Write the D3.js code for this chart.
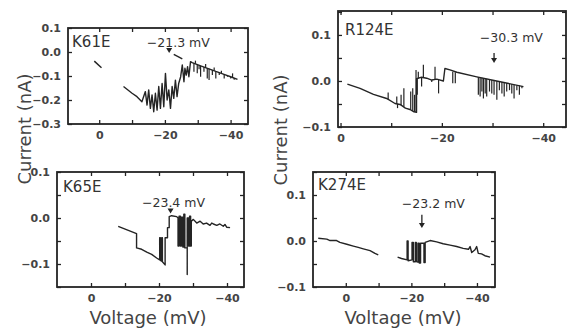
<!DOCTYPE html>
<html>
<head>
<meta charset="utf-8">
<script src="https://cdn.jsdelivr.net/npm/d3@7"></script>
<style>
  body { margin: 0; background: #fff; }
  svg { display: block; }
</style>
</head>
<body>
<div id="chart"></div>
<script>
// Current traces, [voltage (mV), current (nA)].
// Each inner array is one unbroken piece of a trace.
// Spikes are brief channel events: [voltage, current before, current at tip].
const mutants = ['K61E', 'R124E', 'K65E', 'K274E'];
const thresholds = [-21.3, -30.3, -23.4, -23.2];
const thresholdLabels = ['\u221221.3 mV', '\u221230.3 mV', '\u221223.4 mV', '\u221223.2 mV'];

const k61eTrace = [
  [[1.5, -0.038], [-0.7, -0.066]],
  [[-22.7, -0.010], [-25.3, -0.029]],
  [[-7.4, -0.144], [-10.0, -0.172], [-11.5, -0.186], [-13.0, -0.207], [-14.05, -0.165], [-14.56, -0.221],
   [-15.07, -0.158], [-15.58, -0.235], [-16.09, -0.179], [-16.6, -0.249], [-17.11, -0.172], [-17.62, -0.242],
   [-18.13, -0.144], [-18.64, -0.235], [-19.15, -0.131], [-19.66, -0.228], [-20.17, -0.089], [-20.68, -0.2],
   [-21.19, -0.158], [-21.7, -0.235], [-22.2, -0.144], [-22.7, -0.193], [-23.2, -0.117], [-23.7, -0.186],
   [-24.2, -0.131], [-24.8, -0.103], [-25.3, -0.054], [-25.8, -0.124], [-26.1, -0.068], [-26.5, -0.096],
   [-26.9, -0.061], [-27.3, -0.103], [-27.8, -0.040], [-28.3, -0.044], [-30.9, -0.058], [-33.4, -0.070],
   [-35.5, -0.081], [-38.0, -0.093], [-40.0, -0.103], [-42.1, -0.114]]
];
const k61eSpikes = [
  [-28.84, -0.047, -0.082], [-29.3, -0.049, -0.036], [-29.85, -0.052, -0.089], [-30.4, -0.055, -0.072],
  [-30.87, -0.057, -0.103], [-31.89, -0.062, -0.082], [-32.4, -0.065, -0.050], [-32.9, -0.068, -0.110],
  [-33.45, -0.070, -0.117], [-34.45, -0.075, -0.096], [-35.0, -0.078, -0.065], [-35.5, -0.081, -0.110],
  [-36.55, -0.086, -0.096], [-37.2, -0.089, -0.078], [-38.05, -0.093, -0.110], [-39.05, -0.099, -0.103],
  [-40.05, -0.103, -0.110], [-40.6, -0.106, -0.089], [-41.1, -0.108, -0.116]
];

const r124eTrace = [
  [[-1.35, -0.007], [-3.85, -0.016], [-6.5, -0.029], [-9.1, -0.038], [-10.75, -0.049], [-11.75, -0.051],
   [-12.8, -0.059], [-13.7, -0.062], [-14.5, -0.067], [-15.0, -0.068], [-15.0, 0.005], [-16.0, 0.008],
   [-17.0, 0.006], [-18.0, 0.002], [-19.0, 0.004], [-20.3, 0.0], [-20.6, 0.027], [-21.6, 0.024],
   [-22.95, 0.019], [-26.9, 0.009], [-30.8, 0.0], [-36.1, -0.0123]]
];
const r124eSpikes = [
  [-9.4, -0.040, -0.025], [-11.1, -0.050, -0.034], [-11.25, -0.050, -0.059], [-11.95, -0.053, -0.030],
  [-12.5, -0.056, -0.016], [-13.85, -0.063, -0.023], [-14.25, -0.065, -0.016], [-14.6, -0.067, -0.030],
  [-14.9, -0.067, 0.024], [-15.15, 0.005, -0.030], [-15.35, 0.005, 0.020], [-16.0, 0.008, -0.012],
  [-16.35, 0.008, 0.035], [-18.0, 0.002, -0.002], [-18.65, 0.003, 0.031], [-19.35, 0.003, -0.027],
  [-22.15, 0.020, -0.005], [-22.65, 0.019, -0.005],
  [-27.2, 0.0087, -0.030], [-27.55, 0.008, -0.034], [-27.9, 0.007, -0.023], [-28.2, 0.0065, -0.038],
  [-28.55, 0.006, -0.027], [-28.85, 0.005, -0.034], [-29.4, 0.0036, -0.023], [-29.85, 0.0022, -0.027],
  [-30.3, 0.0014, -0.030], [-30.85, 0.0, -0.041], [-31.35, -0.0015, -0.020], [-31.85, -0.0022, -0.027],
  [-32.3, -0.0036, -0.034], [-32.8, -0.0044, -0.023], [-33.35, -0.0058, -0.020], [-33.8, -0.0065, -0.027],
  [-34.25, -0.008, -0.038], [-34.8, -0.0094, -0.020], [-35.3, -0.010, -0.030], [-35.8, -0.0116, -0.016]
];

const k65eTrace = [
  [[-8.0, -0.018], [-13.4, -0.034], [-13.4, -0.065], [-14.9, -0.068], [-16.4, -0.074], [-17.85, -0.079],
   [-19.3, -0.087], [-20.2, -0.091], [-20.2, -0.043], [-20.4, -0.043], [-20.4, -0.092], [-20.8, -0.094],
   [-20.8, -0.043], [-21.0, -0.043], [-21.0, -0.095], [-21.8, -0.102], [-21.8, -0.043], [-22.5, -0.043],
   [-22.5, -0.021], [-23.0, -0.021], [-23.0, 0.003], [-23.7, 0.005], [-25.2, 0.003], [-25.6, 0.0],
   [-25.6, -0.061], [-25.9, -0.061], [-25.9, 0.004], [-26.3, 0.004], [-26.3, -0.061], [-26.6, -0.061],
   [-26.6, 0.002], [-27.0, 0.002], [-27.0, -0.063], [-27.3, -0.063], [-27.3, 0.008], [-27.6, 0.008],
   [-27.6, -0.065], [-28.3, -0.065], [-28.3, -0.123], [-28.3, 0.0], [-28.7, 0.0], [-28.7, -0.061],
   [-29.0, -0.061], [-29.0, 0.004], [-29.3, 0.004], [-29.3, -0.061], [-29.5, -0.061], [-29.5, -0.007],
   [-30.1, -0.003], [-31.1, -0.011], [-32.1, -0.007], [-33.0, -0.013], [-34.0, -0.011], [-35.0, -0.016],
   [-35.5, -0.011], [-36.0, -0.013], [-37.0, -0.016], [-37.9, -0.013], [-38.9, -0.018], [-39.4, -0.014],
   [-39.9, -0.020], [-40.9, -0.021]]
];
const k65eSpikes = [];

const k274eTrace = [
  [[8.4, 0.006], [5.8, 0.004], [4.8, 0.001], [2.8, 0.001], [1.8, -0.003], [-0.3, -0.007], [-2.3, -0.011],
   [-3.8, -0.014], [-5.35, -0.017], [-7.4, -0.021], [-8.9, -0.027], [-9.9, -0.030]],
  [[-15.8, -0.035], [-17.0, -0.038], [-18.7, -0.041], [-18.7, 0.0], [-19.0, 0.0], [-19.0, -0.043],
   [-20.2, -0.041], [-20.2, -0.003], [-20.6, -0.003], [-20.6, -0.045], [-21.2, -0.045], [-21.2, -0.003],
   [-21.5, -0.003], [-21.5, -0.045], [-22.0, -0.046], [-22.0, -0.005], [-22.4, -0.005], [-22.4, -0.048],
   [-22.8, -0.048], [-22.8, -0.005], [-23.84, -0.005], [-23.84, -0.047], [-24.2, -0.047], [-24.2, -0.003],
   [-25.7, 0.001], [-27.7, -0.002], [-29.7, -0.006], [-31.8, -0.009], [-33.8, -0.012], [-35.8, -0.016],
   [-37.4, -0.018], [-37.9, -0.012], [-38.4, -0.025], [-39.4, -0.019], [-39.9, -0.012], [-40.4, -0.027],
   [-41.4, -0.028], [-42.4, -0.032], [-44.0, -0.035]]
];
const k274eSpikes = [];

const xTicks = [0, -10, -20, -30, -40];
const xTickLabels = [0, -20, -40];
const k61eYTicks = [0.1, 0.0, -0.1, -0.2, -0.3];
const yTicks = [0.15, 0.1, 0.05, 0.0, -0.05, -0.1, -0.15];
const yTickLabels = [0.1, 0.0, -0.1, -0.2, -0.3];

// panel layout (pixel boxes of the four frames)
const panels = [
  {trace: k61eTrace, spikes: k61eSpikes, box: [68, 28, 248, 124], xDom: [9.5, -45.3], yDom: [-0.3, 0.1],
   yt: k61eYTicks, lab: [4, 19], arrow: 'tri', txt: [-14.5, 0.021], tip: -0.004},
  {trace: r124eTrace, spikes: r124eSpikes, box: [338, 11, 566, 127], xDom: [0.5, -44.5], yDom: [-0.1, 0.152],
   yt: yTicks, lab: [7, 24], arrow: 'line', txt: [-27.5, 0.085], tip: [0.061, 0.039]},
  {trace: k65eTrace, spikes: k65eSpikes, box: [57, 172, 244, 287], xDom: [10, -45], yDom: [-0.15, 0.1],
   yt: yTicks, lab: [6, 20], arrow: 'tri', txt: [-15.0, 0.025], tip: 0.010},
  {trace: k274eTrace, spikes: k274eSpikes, box: [313, 172, 495, 287], xDom: [10, -45.5], yDom: [-0.1, 0.15],
   yt: yTicks, lab: [5, 18], arrow: 'line', txt: [-17.1, 0.072], tip: [0.057, 0.028]}
];

const width = 567, height = 330;
const ink = '#242424';

const svg = d3.select('#chart').append('svg')
    .attr('width', width)
    .attr('height', height)
    .style('background', '#fff');

const tickFmtX = d3.format('d');
const tickFmtY = d3.format('.1f');
const near = (arr, d) => arr.some(v => Math.abs(v - d) < 1e-9);

panels.forEach((p, i) => {
  const [x0, y0, x1, y1] = p.box;
  const x = d3.scaleLinear().domain(p.xDom).range([x0, x1]);
  const y = d3.scaleLinear().domain(p.yDom).range([y1, y0]);
  const yt = p.yt.filter(v => v >= p.yDom[0] - 1e-9 && v <= p.yDom[1] + 1e-9);

  const g = svg.append('g');

  g.append('clipPath').attr('id', `clip${i}`)
    .append('rect').attr('x', x0).attr('y', y0).attr('width', x1 - x0).attr('height', y1 - y0);

  // axes, ticks pointing inwards on all four sides
  const axes = [
    [d3.axisBottom(x).tickValues(xTicks).tickFormat(d => near(xTickLabels, d) ? tickFmtX(d) : ''), `translate(0,${y1})`],
    [d3.axisTop(x).tickValues(xTicks).tickFormat(''), `translate(0,${y0})`],
    [d3.axisLeft(y).tickValues(yt).tickFormat(d => near(yTickLabels, d) ? tickFmtY(d) : ''), `translate(${x0},0)`],
    [d3.axisRight(y).tickValues(yt).tickFormat(''), `translate(${x1},0)`]
  ];
  axes.forEach(([ax, tr]) => {
    const a = g.append('g').attr('transform', tr)
        .call(ax.tickSizeInner(-4).tickSizeOuter(0).tickPadding(7));
    a.select('.domain').remove();
    a.selectAll('line').attr('stroke', ink).attr('stroke-width', 1.3);
    a.selectAll('text')
        .attr('fill', '#444')
        .style('font-family', '"DejaVu Sans", sans-serif')
        .style('font-weight', 'bold')
        .style('font-size', '11px');
  });

  g.append('rect')
      .attr('x', x0).attr('y', y0)
      .attr('width', x1 - x0).attr('height', y1 - y0)
      .attr('fill', 'none')
      .attr('stroke', ink)
      .attr('stroke-width', 1.8);

  const plot = g.append('g').attr('clip-path', `url(#clip${i})`);

  const line = d3.line().x(d => x(d[0])).y(d => y(d[1]));
  plot.selectAll('path')
    .data(p.trace)
    .join('path')
      .attr('d', line)
      .attr('fill', 'none')
      .attr('stroke', ink)
      .attr('stroke-width', 1.4)
      .attr('stroke-linejoin', 'round');

  plot.selectAll('line')
    .data(p.spikes)
    .join('line')
      .attr('x1', d => x(d[0])).attr('x2', d => x(d[0]))
      .attr('y1', d => y(d[1])).attr('y2', d => y(d[2]))
      .attr('stroke', ink)
      .attr('stroke-width', 1.2);

  // mutant name
  g.append('text')
      .attr('x', x0 + p.lab[0])
      .attr('y', y0 + p.lab[1])
      .attr('fill', '#333')
      .style('font-family', '"DejaVu Sans", sans-serif')
      .style('font-size', '15px')
      .text(mutants[i]);

  // threshold marker
  g.append('text')
      .attr('x', x(p.txt[0]))
      .attr('y', y(p.txt[1]))
      .attr('fill', '#333')
      .style('font-family', '"DejaVu Sans", sans-serif')
      .style('font-size', '12.5px')
      .text(thresholdLabels[i]);

  const ax = x(thresholds[i]);
  if (p.arrow === 'tri') {
    const ty = y(p.tip);
    g.append('path')
        .attr('d', `M${ax - 3},${ty - 5}L${ax + 3},${ty - 5}L${ax},${ty}Z`)
        .attr('fill', ink);
  } else {
    const ya = y(p.tip[0]), yb = y(p.tip[1]);
    g.append('line')
        .attr('x1', ax).attr('x2', ax).attr('y1', ya).attr('y2', yb - 2)
        .attr('stroke', ink).attr('stroke-width', 1.3);
    g.append('path')
        .attr('d', `M${ax - 3},${yb - 5}L${ax + 3},${yb - 5}L${ax},${yb}Z`)
        .attr('fill', ink);
  }
});

// shared axis titles
const titleFont = sel => sel
    .attr('fill', '#444')
    .style('font-family', '"DejaVu Sans", sans-serif')
    .style('font-size', '18px');

[[31, 129], [287, 130]].forEach(([tx, ty]) => {
  svg.append('text')
      .attr('transform', `translate(${tx},${ty}) rotate(-90)`)
      .attr('text-anchor', 'middle')
      .call(titleFont)
      .text('Current (nA)');
});

[148, 403].forEach(tx => {
  svg.append('text')
      .attr('x', tx)
      .attr('y', 324)
      .attr('text-anchor', 'middle')
      .call(titleFont)
      .text('Voltage (mV)');
});
</script>
</body>
</html>
